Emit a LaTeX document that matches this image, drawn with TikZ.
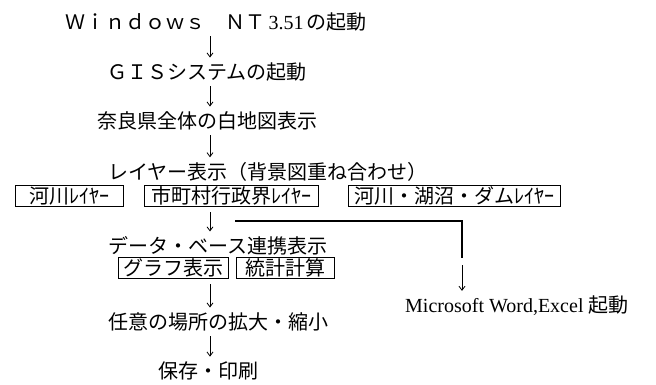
\documentclass[tikz,border=0pt]{standalone}
\usepackage{fontspec}
\setmainfont{Noto Sans CJK JP}
\newfontfamily\romanfont{Liberation Serif}
\usetikzlibrary{positioning,arrows.meta}

\begin{document}
\begin{tikzpicture}[
    x=1pt, y=-1pt,
    font=\fontsize{20}{24}\selectfont,
    >={Straight Barb[length=4pt,width=6pt]},
    stage/.style={anchor=west, inner sep=0pt},
    layerbox/.style={
        draw=black,
        anchor=west,
        inner xsep=3pt,
        inner ysep=1.5pt,
        minimum height=21pt,
        line width=0.9pt
    },
    downarrow/.style={->, line width=0.8pt, shorten <=5pt, shorten >=5pt},
    branchline/.style={line width=1.1pt}
]
    \useasboundingbox (0,0) rectangle (656,385);
    \coordinate (col) at (210,0);

    \node[stage] (windows) at (65,22) {Ｗｉｎｄｏｗｓ　ＮＴ{\romanfont\,3.51\,}の起動};
    \node[stage] (gis) at (107,72) {ＧＩＳシステムの起動};
    \node[stage] (nara) at (97,121) {奈良県全体の白地図表示};
    \node[stage] (layer) at (108,172) {レイヤー表示（背景図重ね合わせ）};

    \node[layerbox, minimum width=108pt] (river) at (15,196) {河川ﾚｲﾔｰ};
    \node[layerbox, minimum width=174pt] (admin) at (144,196) {市町村行政界ﾚｲﾔｰ};
    \node[layerbox, minimum width=212pt] (lake) at (348,196) {河川・湖沼・ダムﾚｲﾔｰ};

    \node[stage] (database) at (108,246) {データ・ベース連携表示};
    \node[layerbox, minimum width=110pt] (graph) at (118,268) {グラフ表示};
    \node[layerbox, minimum width=98pt] (stats) at (236,268) {統計計算};

    \node[stage] (word) at (405,306) {{\romanfont Microsoft Word,Excel} 起動};
    \node[stage] (zoom) at (108,322) {任意の場所の拡大・縮小};
    \node[stage] (save) at (158,371) {保存・印刷};

    \draw[downarrow] (windows.south -| col) -- (gis.north -| col);
    \draw[downarrow] (gis.south -| col) -- (nara.north -| col);
    \draw[downarrow] (nara.south -| col) -- (layer.north -| col);
    \draw[downarrow] (admin.south -| col) -- (database.north -| col);
    \draw[downarrow] (graph.south -| col) -- (zoom.north -| col);
    \draw[downarrow] (zoom.south -| col) -- (save.north -| col);

    \coordinate (split) at (235,221);
    \coordinate (drop) at (462,258);
    \draw[branchline] (split) -| (drop);
    \draw[downarrow, shorten <=7pt] (drop) -- (word.north -| drop);

\end{tikzpicture}
\end{document}
